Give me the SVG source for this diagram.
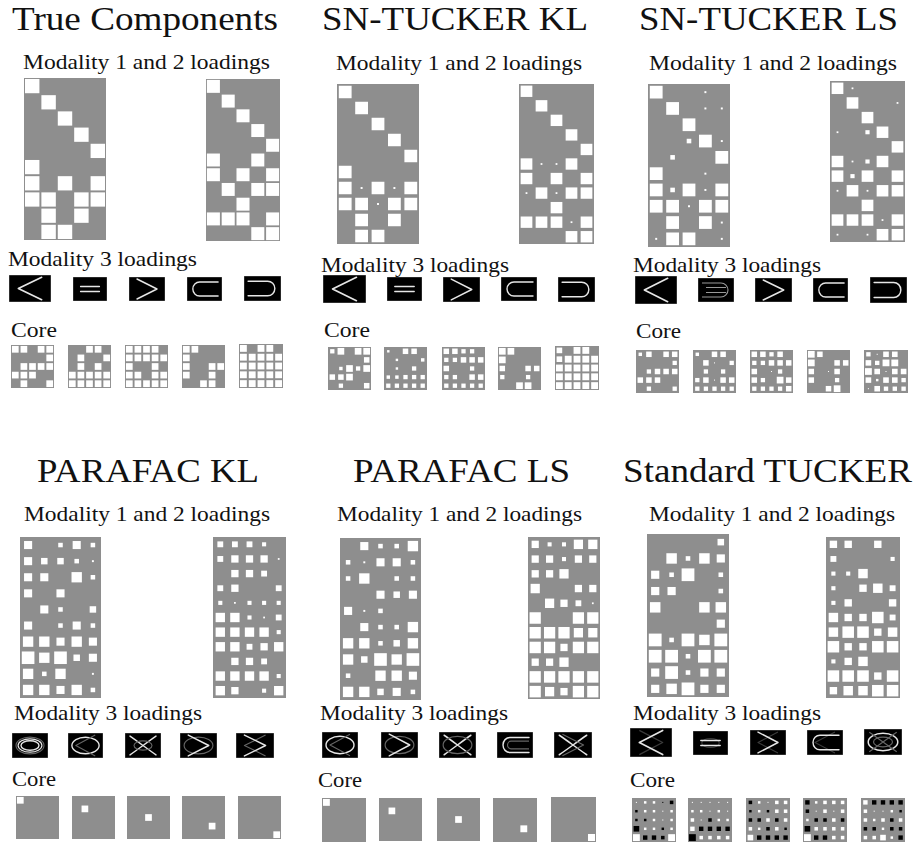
<svg xmlns="http://www.w3.org/2000/svg" xmlns:xlink="http://www.w3.org/1999/xlink" width="916" height="846" viewBox="0 0 916 846">
<style>
.bg{fill:#8e8e8e}
.bk{fill:#000;stroke:#888;stroke-width:.6}
.ln{fill:none;stroke:#e6e6e6;stroke-width:1.4;stroke-linejoin:round;stroke-linecap:round}
.fa{fill:none;stroke:#666;stroke-width:1.1;stroke-linejoin:round}
.k{fill:#000}
.ti{font-family:"Liberation Serif","Times New Roman",serif;font-size:33px;fill:#111}
.sb{font-family:"Liberation Serif","Times New Roman",serif;font-size:21px;fill:#111}
</style>
<defs>
<rect id="t" x=".06" y=".06" width=".88" height=".88"/>
<rect id="a" x=".11" y=".11" width=".78" height=".78"/>
<rect id="b" x=".18" y=".18" width=".64" height=".64"/>
<rect id="c" x=".25" y=".25" width=".5" height=".5"/>
<rect id="d" x=".3" y=".3" width=".4" height=".4"/>
<rect id="e" x=".36" y=".36" width=".28" height=".28"/>
<rect id="f" x=".44" y=".44" width=".12" height=".12"/>
<path id="lt" d="M28,2 L8,12 L28,22"/>
<path id="gt" d="M8,2 L28,12 L8,22"/>
<path id="eq" d="M8,9.5 H28 M8,14.5 H28"/>
<path id="sub" d="M32,5 H13 A7,7 0 0 0 13,19 H32"/>
<path id="sup" d="M4,5 H23 A7,7 0 0 1 23,19 H4"/>
<ellipse id="el" cx="18" cy="12" rx="14" ry="8"/>
<ellipse id="el2" cx="18" cy="12" rx="9" ry="4.5"/>
<path id="x" d="M5,3 C14,9 22,15 31,21 M5,21 C14,15 22,9 31,3"/>
</defs>

<g id="panel-true">
<text class="ti" x="12" y="30" textLength="266" lengthAdjust="spacingAndGlyphs">True Components</text>
<text class="sb" x="23" y="69" textLength="247" lengthAdjust="spacingAndGlyphs">Modality 1 and 2 loadings</text>
<svg id="true-m1" x="24" y="78" width="82" height="162" viewBox="0 0 5 10" preserveAspectRatio="none" fill="#fff"><rect class="bg" width="5" height="10"/>
<use href="#t"/><use href="#t" x="1" y="1"/><use href="#t" x="2" y="2"/><use href="#t" x="3" y="3"/><use href="#t" x="4" y="4"/><use href="#t" y="5"/>
<use href="#t" y="6"/><use href="#t" x="2" y="6"/><use href="#t" x="4" y="6"/>
<use href="#t" y="7"/><use href="#t" x="1" y="7"/><use href="#t" x="3" y="7"/><use href="#t" x="4" y="7"/>
<use href="#t" x="1" y="8"/><use href="#t" x="3" y="8"/><use href="#t" x="1" y="9"/><use href="#t" x="2" y="9"/></svg>
<svg id="true-m2" x="206" y="79" width="74" height="162" viewBox="0 0 5 11" preserveAspectRatio="none" fill="#fff"><rect class="bg" width="5" height="11"/>
<use href="#t"/><use href="#t" x="1" y="1"/><use href="#t" x="2" y="2"/><use href="#t" x="3" y="3"/><use href="#t" x="4" y="4"/>
<use href="#t" y="5"/><use href="#t" x="3" y="5"/><use href="#t" y="6"/><use href="#t" x="2" y="6"/><use href="#t" x="4" y="6"/>
<use href="#t" x="1" y="7"/><use href="#t" x="3" y="7"/><use href="#t" x="4" y="7"/><use href="#t" x="2" y="8"/>
<use href="#t" y="9"/><use href="#t" x="1" y="9"/><use href="#t" x="2" y="9"/><use href="#t" x="4" y="9"/><use href="#t" x="3" y="10"/><use href="#t" x="4" y="10"/></svg>
<text class="sb" x="8" y="266" textLength="189" lengthAdjust="spacingAndGlyphs">Modality 3 loadings</text>
<svg x="9" y="275" width="42" height="27" viewBox="0 0 36 24" preserveAspectRatio="none"><rect class="bk" width="36" height="24"/><use href="#lt" class="ln"/></svg>
<svg x="73" y="277" width="34" height="24" viewBox="0 0 36 24" preserveAspectRatio="none"><rect class="bk" width="36" height="24"/><use href="#eq" class="ln"/></svg>
<svg x="129" y="277" width="36" height="24" viewBox="0 0 36 24" preserveAspectRatio="none"><rect class="bk" width="36" height="24"/><use href="#gt" class="ln"/></svg>
<svg x="187" y="277" width="35" height="24" viewBox="0 0 36 24" preserveAspectRatio="none"><rect class="bk" width="36" height="24"/><use href="#sub" class="ln"/></svg>
<svg x="244" y="276" width="37" height="25" viewBox="0 0 36 24" preserveAspectRatio="none"><rect class="bk" width="36" height="24"/><use href="#sup" class="ln"/></svg>
<text class="sb" x="11" y="337" textLength="46" lengthAdjust="spacingAndGlyphs">Core</text>
<svg x="11" y="345" width="43" height="43" viewBox="0 0 5 5" fill="#fff"><rect class="bg" width="5" height="5"/>
<use href="#a"/><use href="#a" x="1"/><use href="#a" x="3"/><use href="#a" x="4"/><use href="#a" x="4" y="1"/>
<use href="#a" x="1" y="2"/><use href="#a" x="2" y="2"/><use href="#a" x="3" y="2"/><use href="#a" x="4" y="2"/>
<use href="#a" y="3"/><use href="#a" x="1" y="3"/><use href="#a" x="2" y="3"/><use href="#a" x="1" y="4"/><use href="#a" x="4" y="4"/></svg>
<svg x="68" y="345" width="43" height="43" viewBox="0 0 5 5" fill="#fff"><rect class="bg" width="5" height="5"/>
<use href="#a" x="2"/><use href="#a" x="3"/><use href="#a" x="1" y="1"/><use href="#a" x="4" y="1"/><use href="#a" x="1" y="2"/><use href="#a" x="3" y="2"/>
<use href="#a" y="3"/><use href="#a" x="1" y="3"/><use href="#a" x="2" y="3"/><use href="#a" x="3" y="3"/><use href="#a" x="4" y="3"/>
<use href="#a" y="4"/><use href="#a" x="1" y="4"/><use href="#a" x="2" y="4"/><use href="#a" x="3" y="4"/><use href="#a" x="4" y="4"/></svg>
<svg x="125" y="345" width="43" height="43" viewBox="0 0 5 5" fill="#fff"><rect class="bg" width="5" height="5"/>
<use href="#a"/><use href="#a" x="1"/><use href="#a" x="2"/><use href="#a" x="3"/>
<use href="#a" y="1"/><use href="#a" x="1" y="1"/><use href="#a" x="2" y="1"/><use href="#a" x="3" y="1"/><use href="#a" x="4" y="1"/>
<use href="#a" y="2"/><use href="#a" x="3" y="2"/><use href="#a" y="3"/><use href="#a" x="1" y="3"/><use href="#a" x="3" y="3"/><use href="#a" x="4" y="3"/>
<use href="#a" y="4"/><use href="#a" x="1" y="4"/><use href="#a" x="2" y="4"/><use href="#a" x="3" y="4"/><use href="#a" x="4" y="4"/></svg>
<svg x="182" y="345" width="43" height="43" viewBox="0 0 5 5" fill="#fff"><rect class="bg" width="5" height="5"/>
<use href="#a"/><use href="#a" x="1"/><use href="#a" y="1"/><use href="#a" y="2"/><use href="#a" x="3" y="2"/><use href="#a" x="4" y="2"/>
<use href="#a" y="3"/><use href="#a" x="3" y="3"/><use href="#a" x="2" y="4"/><use href="#a" x="3" y="4"/></svg>
<svg x="239" y="344" width="44" height="44" viewBox="0 0 5 5" fill="#fff"><rect class="bg" width="5" height="5"/>
<use href="#a"/><use href="#a" x="2"/><use href="#a" x="3"/>
<use href="#a" y="1"/><use href="#a" x="1" y="1"/><use href="#a" x="2" y="1"/><use href="#a" x="3" y="1"/><use href="#a" x="4" y="1"/>
<use href="#a" y="2"/><use href="#a" x="1" y="2"/><use href="#a" x="2" y="2"/><use href="#a" x="3" y="2"/><use href="#a" x="4" y="2"/>
<use href="#a" y="3"/><use href="#a" x="1" y="3"/><use href="#a" x="2" y="3"/><use href="#a" x="3" y="3"/><use href="#a" x="4" y="3"/>
<use href="#a" y="4"/><use href="#a" x="1" y="4"/><use href="#a" x="2" y="4"/><use href="#a" x="3" y="4"/><use href="#a" x="4" y="4"/></svg>
</g>

<g id="panel-sn-tucker-kl">
<text class="ti" x="322" y="30" textLength="266" lengthAdjust="spacingAndGlyphs">SN-TUCKER KL</text>
<text class="sb" x="336" y="70" textLength="246" lengthAdjust="spacingAndGlyphs">Modality 1 and 2 loadings</text>
<svg x="337" y="84" width="82" height="160" viewBox="0 0 5 10" preserveAspectRatio="none" fill="#fff"><rect class="bg" width="5" height="10"/>
<use href="#a"/><use href="#a" x="1" y="1"/><use href="#a" x="2" y="2"/><use href="#a" x="3" y="3"/><use href="#a" x="4" y="4"/><use href="#a" y="5"/>
<use href="#a" y="6"/><use href="#f" x="1" y="6"/><use href="#a" x="2" y="6"/><use href="#f" x="3" y="6"/><use href="#a" x="4" y="6"/>
<use href="#a" y="7"/><use href="#a" x="1" y="7"/><use href="#f" x="2" y="7"/><use href="#a" x="3" y="7"/><use href="#a" x="4" y="7"/>
<use href="#a" x="1" y="8"/><use href="#a" x="3" y="8"/><use href="#a" x="1" y="9"/><use href="#a" x="2" y="9"/></svg>
<svg x="519" y="84" width="75" height="160" viewBox="0 0 5 11" preserveAspectRatio="none" fill="#fff"><rect class="bg" width="5" height="11"/>
<use href="#a"/><use href="#a" x="1" y="1"/><use href="#a" x="2" y="2"/><use href="#a" x="3" y="3"/><use href="#a" x="4" y="4"/>
<use href="#a" y="5"/><use href="#f" x="1" y="5"/><use href="#f" x="2" y="5"/><use href="#a" x="3" y="5"/>
<use href="#a" y="6"/><use href="#a" x="2" y="6"/><use href="#a" x="4" y="6"/>
<use href="#f" y="7"/><use href="#a" x="1" y="7"/><use href="#f" x="2" y="7"/><use href="#a" x="3" y="7"/><use href="#a" x="4" y="7"/><use href="#a" x="2" y="8"/>
<use href="#a" y="9"/><use href="#a" x="1" y="9"/><use href="#a" x="2" y="9"/><use href="#f" x="3" y="9"/><use href="#a" x="4" y="9"/><use href="#a" x="3" y="10"/><use href="#a" x="4" y="10"/></svg>
<text class="sb" x="321" y="272" textLength="188" lengthAdjust="spacingAndGlyphs">Modality 3 loadings</text>
<svg x="323" y="275" width="43" height="28" viewBox="0 0 36 24" preserveAspectRatio="none"><rect class="bk" width="36" height="24"/><use href="#lt" class="ln"/></svg>
<svg x="387" y="277" width="35" height="24" viewBox="0 0 36 24" preserveAspectRatio="none"><rect class="bk" width="36" height="24"/><use href="#eq" class="ln"/></svg>
<svg x="443" y="277" width="37" height="25" viewBox="0 0 36 24" preserveAspectRatio="none"><rect class="bk" width="36" height="24"/><use href="#gt" class="ln"/></svg>
<svg x="501" y="277" width="36" height="24" viewBox="0 0 36 24" preserveAspectRatio="none"><rect class="bk" width="36" height="24"/><use href="#sub" class="ln"/></svg>
<svg x="558" y="277" width="37" height="25" viewBox="0 0 36 24" preserveAspectRatio="none"><rect class="bk" width="36" height="24"/><use href="#sup" class="ln"/></svg>
<text class="sb" x="324" y="337" textLength="46" lengthAdjust="spacingAndGlyphs">Core</text>
<svg x="328" y="347" width="43" height="43" viewBox="0 0 5 5" fill="#fff"><rect class="bg" width="5" height="5"/>
<use href="#c"/><use href="#a" x="1"/><use href="#a" x="3"/><use href="#a" x="4"/><use href="#b" x="4" y="1"/>
<use href="#d" x="1" y="2"/><use href="#a" x="2" y="2"/><use href="#c" x="3" y="2"/><use href="#a" x="4" y="2"/>
<use href="#b" y="3"/><use href="#b" x="1" y="3"/><use href="#a" x="2" y="3"/><use href="#c" x="1" y="4"/><use href="#b" x="4" y="4"/></svg>
<svg x="384" y="347" width="43" height="43" viewBox="0 0 5 5" fill="#fff"><rect class="bg" width="5" height="5"/>
<use href="#e"/><use href="#b" x="2"/><use href="#b" x="3"/><use href="#e" x="1" y="1"/><use href="#d" x="4" y="1"/><use href="#e" x="1" y="2"/><use href="#c" x="3" y="2"/>
<use href="#d" y="3"/><use href="#d" x="1" y="3"/><use href="#c" x="2" y="3"/><use href="#c" x="3" y="3"/><use href="#c" x="4" y="3"/>
<use href="#c" y="4"/><use href="#c" x="1" y="4"/><use href="#c" x="2" y="4"/><use href="#c" x="3" y="4"/><use href="#c" x="4" y="4"/></svg>
<svg x="442" y="347" width="43" height="43" viewBox="0 0 5 5" fill="#fff"><rect class="bg" width="5" height="5"/>
<use href="#b"/><use href="#b" x="1"/><use href="#c" x="2"/><use href="#c" x="3"/>
<use href="#c" y="1"/><use href="#c" x="1" y="1"/><use href="#b" x="2" y="1"/><use href="#b" x="3" y="1"/><use href="#b" x="4" y="1"/>
<use href="#b" y="2"/><use href="#c" x="3" y="2"/><use href="#c" y="3"/><use href="#c" x="1" y="3"/><use href="#b" x="3" y="3"/><use href="#b" x="4" y="3"/>
<use href="#c" y="4"/><use href="#c" x="1" y="4"/><use href="#c" x="2" y="4"/><use href="#c" x="3" y="4"/><use href="#c" x="4" y="4"/></svg>
<svg x="498" y="347" width="43" height="43" viewBox="0 0 5 5" fill="#fff"><rect class="bg" width="5" height="5"/>
<use href="#a"/><use href="#a" x="1"/><use href="#a" y="1"/><use href="#b" y="2"/><use href="#b" x="3" y="2"/><use href="#b" x="4" y="2"/>
<use href="#c" y="3"/><use href="#c" x="3" y="3"/><use href="#a" x="2" y="4"/><use href="#a" x="3" y="4"/></svg>
<svg x="555" y="346" width="44" height="44" viewBox="0 0 5 5" fill="#fff"><rect class="bg" width="5" height="5"/>
<use href="#b"/><use href="#a" x="2"/><use href="#a" x="3"/>
<use href="#b" y="1"/><use href="#a" x="1" y="1"/><use href="#a" x="2" y="1"/><use href="#a" x="3" y="1"/><use href="#a" x="4" y="1"/>
<use href="#a" y="2"/><use href="#a" x="1" y="2"/><use href="#a" x="2" y="2"/><use href="#a" x="3" y="2"/><use href="#a" x="4" y="2"/>
<use href="#a" y="3"/><use href="#a" x="1" y="3"/><use href="#a" x="2" y="3"/><use href="#a" x="3" y="3"/><use href="#a" x="4" y="3"/>
<use href="#a" y="4"/><use href="#a" x="1" y="4"/><use href="#a" x="2" y="4"/><use href="#a" x="3" y="4"/><use href="#a" x="4" y="4"/></svg>
</g>

<g id="panel-sn-tucker-ls">
<text class="ti" x="639" y="30" textLength="259" lengthAdjust="spacingAndGlyphs">SN-TUCKER LS</text>
<text class="sb" x="649" y="70" textLength="248" lengthAdjust="spacingAndGlyphs">Modality 1 and 2 loadings</text>
<svg x="648" y="84" width="82" height="163" viewBox="0 0 5 10" preserveAspectRatio="none" fill="#fff"><rect class="bg" width="5" height="10"/>
<use href="#a"/><use href="#f" x="3"/><use href="#a" x="1" y="1"/><use href="#f" x="3" y="1"/><use href="#f" x="4" y="1"/><use href="#a" x="2" y="2"/>
<use href="#e" x="2" y="3"/><use href="#a" x="3" y="3"/><use href="#f" x="4" y="3"/><use href="#e" x="1" y="4"/><use href="#a" x="4" y="4"/>
<use href="#a" y="5"/><use href="#f" x="3" y="5"/>
<use href="#a" y="6"/><use href="#e" x="1" y="6"/><use href="#a" x="2" y="6"/><use href="#f" x="3" y="6"/><use href="#a" x="4" y="6"/>
<use href="#a" y="7"/><use href="#a" x="1" y="7"/><use href="#f" x="2" y="7"/><use href="#a" x="3" y="7"/><use href="#a" x="4" y="7"/>
<use href="#a" x="1" y="8"/><use href="#a" x="3" y="8"/><use href="#f" x="4" y="8"/><use href="#f" y="9"/><use href="#a" x="1" y="9"/><use href="#a" x="2" y="9"/><use href="#f" x="4" y="9"/></svg>
<svg x="830" y="81" width="75" height="161" viewBox="0 0 5 11" preserveAspectRatio="none" fill="#fff"><rect class="bg" width="5" height="11"/>
<use href="#a"/><use href="#f" x="1"/><use href="#a" x="1" y="1"/><use href="#f" x="4" y="1"/><use href="#a" x="2" y="2"/>
<use href="#f" y="3"/><use href="#e" x="2" y="3"/><use href="#a" x="3" y="3"/><use href="#a" x="4" y="4"/>
<use href="#a" y="5"/><use href="#f" x="1" y="5"/><use href="#e" x="2" y="5"/><use href="#a" x="3" y="5"/>
<use href="#a" y="6"/><use href="#e" x="1" y="6"/><use href="#a" x="2" y="6"/><use href="#a" x="4" y="6"/>
<use href="#f" y="7"/><use href="#a" x="1" y="7"/><use href="#f" x="2" y="7"/><use href="#a" x="3" y="7"/><use href="#a" x="4" y="7"/><use href="#a" x="2" y="8"/>
<use href="#a" y="9"/><use href="#a" x="1" y="9"/><use href="#a" x="2" y="9"/><use href="#f" x="3" y="9"/><use href="#a" x="4" y="9"/>
<use href="#f" y="10"/><use href="#f" x="2" y="10"/><use href="#a" x="3" y="10"/><use href="#a" x="4" y="10"/></svg>
<text class="sb" x="633" y="272" textLength="188" lengthAdjust="spacingAndGlyphs">Modality 3 loadings</text>
<svg x="635" y="276" width="42" height="28" viewBox="0 0 36 24" preserveAspectRatio="none"><rect class="bk" width="36" height="24"/><use href="#lt" class="ln"/></svg>
<svg x="698" y="278" width="36" height="24" viewBox="0 0 36 24" preserveAspectRatio="none"><rect class="bk" width="36" height="24"/><use href="#sup" class="fa" style="stroke:#999"/><use href="#eq" class="fa" style="stroke:#999"/></svg>
<svg x="755" y="278" width="37" height="24" viewBox="0 0 36 24" preserveAspectRatio="none"><rect class="bk" width="36" height="24"/><use href="#gt" class="ln"/></svg>
<svg x="813" y="278" width="35" height="24" viewBox="0 0 36 24" preserveAspectRatio="none"><rect class="bk" width="36" height="24"/><use href="#sub" class="ln"/></svg>
<svg x="870" y="277" width="37" height="26" viewBox="0 0 36 24" preserveAspectRatio="none"><rect class="bk" width="36" height="24"/><use href="#sup" class="ln"/></svg>
<text class="sb" x="636" y="338" textLength="45" lengthAdjust="spacingAndGlyphs">Core</text>
<svg x="636" y="350" width="43" height="43" viewBox="0 0 5 5" fill="#fff"><rect class="bg" width="5" height="5"/>
<use href="#d"/><use href="#b" x="1"/><use href="#b" x="3"/><use href="#b" x="4"/><use href="#c" x="4" y="1"/>
<use href="#c" x="1" y="2"/><use href="#b" x="2" y="2"/><use href="#b" x="3" y="2"/><use href="#b" x="4" y="2"/>
<use href="#b" y="3"/><use href="#b" x="1" y="3"/><use href="#b" x="2" y="3"/><use href="#c" x="1" y="4"/><use href="#c" x="4" y="4"/></svg>
<svg x="693" y="350" width="43" height="43" viewBox="0 0 5 5" fill="#fff"><rect class="bg" width="5" height="5"/>
<use href="#d"/><use href="#b" x="2"/><use href="#b" x="3"/><use href="#b" x="1" y="1"/><use href="#f" x="2" y="1"/><use href="#c" x="4" y="1"/><use href="#c" x="1" y="2"/><use href="#c" x="3" y="2"/>
<use href="#c" y="3"/><use href="#b" x="1" y="3"/><use href="#f" x="2" y="3"/><use href="#b" x="3" y="3"/><use href="#b" x="4" y="3"/>
<use href="#c" y="4"/><use href="#c" x="1" y="4"/><use href="#c" x="2" y="4"/><use href="#c" x="3" y="4"/><use href="#c" x="4" y="4"/></svg>
<svg x="750" y="350" width="43" height="43" viewBox="0 0 5 5" fill="#fff"><rect class="bg" width="5" height="5"/>
<use href="#b"/><use href="#b" x="1"/><use href="#c" x="2"/><use href="#b" x="3"/>
<use href="#c" y="1"/><use href="#c" x="1" y="1"/><use href="#b" x="2" y="1"/><use href="#b" x="3" y="1"/><use href="#b" x="4" y="1"/>
<use href="#b" y="2"/><use href="#f" x="2" y="2"/><use href="#c" x="3" y="2"/><use href="#b" y="3"/><use href="#c" x="1" y="3"/><use href="#a" x="3" y="3"/><use href="#b" x="4" y="3"/>
<use href="#c" y="4"/><use href="#c" x="1" y="4"/><use href="#c" x="2" y="4"/><use href="#c" x="3" y="4"/><use href="#b" x="4" y="4"/></svg>
<svg x="807" y="350" width="43" height="43" viewBox="0 0 5 5" fill="#fff"><rect class="bg" width="5" height="5"/>
<use href="#a"/><use href="#b" x="1"/><use href="#a" y="1"/><use href="#b" x="3" y="1"/><use href="#b" x="4" y="1"/><use href="#b" y="2"/><use href="#f" x="2" y="2"/><use href="#b" x="3" y="2"/>
<use href="#b" y="3"/><use href="#c" x="3" y="3"/><use href="#b" x="2" y="4"/><use href="#a" x="3" y="4"/></svg>
<svg x="864" y="350" width="44" height="43" viewBox="0 0 5 5" preserveAspectRatio="none" fill="#fff"><rect class="bg" width="5" height="5"/>
<use href="#c"/><use href="#f" x="1"/><use href="#b" x="2"/><use href="#b" x="3"/>
<use href="#b" y="1"/><use href="#c" x="1" y="1"/><use href="#a" x="2" y="1"/><use href="#a" x="3" y="1"/>
<use href="#a" y="2"/><use href="#b" x="1" y="2"/><use href="#f" x="2" y="2"/><use href="#b" x="3" y="2"/><use href="#b" x="4" y="2"/>
<use href="#b" y="3"/><use href="#e" x="1" y="3"/><use href="#b" x="2" y="3"/><use href="#b" x="3" y="3"/><use href="#c" x="4" y="3"/>
<use href="#f" y="4"/><use href="#b" x="1" y="4"/><use href="#c" x="2" y="4"/><use href="#c" x="3" y="4"/><use href="#c" x="4" y="4"/></svg>
</g>

<g id="panel-parafac-kl">
<text class="ti" x="37" y="482" textLength="222" lengthAdjust="spacingAndGlyphs">PARAFAC KL</text>
<text class="sb" x="24" y="521" textLength="246" lengthAdjust="spacingAndGlyphs">Modality 1 and 2 loadings</text>
<svg x="20" y="537" width="81" height="161" viewBox="0 0 5 10" preserveAspectRatio="none" fill="#fff"><rect class="bg" width="5" height="10"/>
<use href="#c"/><use href="#e" x="2"/><use href="#c" x="3"/><use href="#e" x="4"/>
<use href="#c" y="1"/><use href="#d" x="1" y="1"/><use href="#d" x="2" y="1"/><use href="#e" x="3" y="1"/><use href="#f" x="4" y="1"/>
<use href="#c" y="2"/><use href="#c" x="1" y="2"/><use href="#b" x="3" y="2"/><use href="#e" x="4" y="2"/>
<use href="#c" y="3"/><use href="#c" x="2" y="3"/><use href="#c" x="1" y="4"/><use href="#e" x="2" y="4"/><use href="#d" x="4" y="4"/>
<use href="#c" y="5"/><use href="#e" x="2" y="5"/><use href="#c" x="3" y="5"/><use href="#e" x="4" y="5"/>
<use href="#b" y="6"/><use href="#b" x="1" y="6"/><use href="#c" x="2" y="6"/><use href="#b" x="3" y="6"/><use href="#c" x="4" y="6"/>
<use href="#a" y="7"/><use href="#b" x="1" y="7"/><use href="#a" x="2" y="7"/><use href="#d" x="3" y="7"/><use href="#c" x="4" y="7"/>
<use href="#b" y="8"/><use href="#e" x="1" y="8"/><use href="#b" x="2" y="8"/><use href="#f" x="4" y="8"/>
<use href="#b" y="9"/><use href="#b" x="1" y="9"/><use href="#c" x="2" y="9"/><use href="#b" x="3" y="9"/><use href="#e" x="4" y="9"/></svg>
<svg x="213" y="537" width="73" height="161" viewBox="0 0 5 11" preserveAspectRatio="none" fill="#fff"><rect class="bg" width="5" height="11"/>
<use href="#d"/><use href="#d" x="1"/><use href="#d" x="2"/><use href="#e" x="3"/>
<use href="#d" y="1"/><use href="#c" x="1" y="1"/><use href="#c" x="2" y="1"/><use href="#c" x="3" y="1"/><use href="#f" x="4" y="1"/>
<use href="#c" x="1" y="2"/><use href="#c" x="2" y="2"/><use href="#d" x="3" y="2"/><use href="#d" y="3"/><use href="#c" x="1" y="3"/><use href="#d" x="4" y="3"/>
<use href="#e" y="4"/><use href="#f" x="1" y="4"/><use href="#e" x="2" y="4"/><use href="#e" x="3" y="4"/><use href="#e" x="4" y="4"/>
<use href="#b" y="5"/><use href="#b" x="1" y="5"/><use href="#e" x="2" y="5"/><use href="#f" x="3" y="5"/><use href="#d" x="4" y="5"/>
<use href="#b" y="6"/><use href="#b" x="1" y="6"/><use href="#b" x="2" y="6"/><use href="#b" x="3" y="6"/><use href="#e" x="4" y="6"/>
<use href="#b" y="7"/><use href="#b" x="1" y="7"/><use href="#d" x="2" y="7"/><use href="#c" x="3" y="7"/><use href="#b" x="4" y="7"/>
<use href="#c" x="1" y="8"/><use href="#c" x="2" y="8"/><use href="#d" x="3" y="8"/>
<use href="#b" y="9"/><use href="#b" x="1" y="9"/><use href="#b" x="2" y="9"/><use href="#b" x="3" y="9"/><use href="#e" x="4" y="9"/>
<use href="#b" y="10"/><use href="#c" x="1" y="10"/><use href="#e" x="3" y="10"/><use href="#b" x="4" y="10"/></svg>
<text class="sb" x="14" y="720" textLength="188" lengthAdjust="spacingAndGlyphs">Modality 3 loadings</text>
<svg x="12" y="733" width="36" height="25" viewBox="0 0 36 24" preserveAspectRatio="none"><rect class="bk" width="36" height="24"/><use href="#el" class="fa"/><use href="#el2" class="ln"/><use href="#el" class="ln" transform="translate(18,12) scale(.85,.8) translate(-18,-12)"/></svg>
<svg x="68" y="733" width="35" height="25" viewBox="0 0 36 24" preserveAspectRatio="none"><rect class="bk" width="36" height="24"/><use href="#el" class="ln"/><use href="#lt" class="fa"/></svg>
<svg x="125" y="733" width="36" height="25" viewBox="0 0 36 24" preserveAspectRatio="none"><rect class="bk" width="36" height="24"/><use href="#x" class="ln"/><use href="#el2" class="fa"/></svg>
<svg x="180" y="733" width="37" height="25" viewBox="0 0 36 24" preserveAspectRatio="none"><rect class="bk" width="36" height="24"/><use href="#el" class="fa"/><use href="#gt" class="ln"/></svg>
<svg x="236" y="733" width="38" height="25" viewBox="0 0 36 24" preserveAspectRatio="none"><rect class="bk" width="36" height="24"/><use href="#lt" class="fa"/><use href="#gt" class="ln"/></svg>
<text class="sb" x="12" y="786" textLength="44" lengthAdjust="spacingAndGlyphs">Core</text>
<svg x="16" y="796" width="43" height="43" viewBox="0 0 5 5" fill="#fff"><rect class="bg" width="5" height="5"/><use href="#a"/></svg>
<svg x="72" y="796" width="43" height="43" viewBox="0 0 5 5" fill="#fff"><rect class="bg" width="5" height="5"/><use href="#a" x="1" y="1"/></svg>
<svg x="127" y="796" width="43" height="43" viewBox="0 0 5 5" fill="#fff"><rect class="bg" width="5" height="5"/><use href="#a" x="2" y="2"/></svg>
<svg x="182" y="796" width="43" height="43" viewBox="0 0 5 5" fill="#fff"><rect class="bg" width="5" height="5"/><use href="#a" x="3" y="3"/></svg>
<svg x="238" y="796" width="43" height="43" viewBox="0 0 5 5" fill="#fff"><rect class="bg" width="5" height="5"/><use href="#a" x="4" y="4"/></svg>
</g>

<g id="panel-parafac-ls">
<text class="ti" x="353" y="482" textLength="217" lengthAdjust="spacingAndGlyphs">PARAFAC LS</text>
<text class="sb" x="337" y="521" textLength="245" lengthAdjust="spacingAndGlyphs">Modality 1 and 2 loadings</text>
<svg x="340" y="538" width="81" height="162" viewBox="0 0 5 10" preserveAspectRatio="none" fill="#fff"><rect class="bg" width="5" height="10"/>
<use href="#c" x="1"/><use href="#e" x="2"/><use href="#e" x="3"/><use href="#b" x="4"/>
<use href="#e" y="1"/><use href="#f" x="1" y="1"/><use href="#c" x="2" y="1"/><use href="#c" x="3" y="1"/><use href="#e" x="4" y="1"/>
<use href="#e" y="2"/><use href="#b" x="1" y="2"/><use href="#e" x="3" y="2"/><use href="#e" x="4" y="2"/>
<use href="#c" x="2" y="3"/><use href="#d" x="3" y="3"/><use href="#c" x="4" y="3"/><use href="#c" y="4"/><use href="#f" x="1" y="4"/><use href="#e" x="2" y="4"/>
<use href="#c" x="1" y="5"/><use href="#e" x="2" y="5"/><use href="#e" x="3" y="5"/><use href="#b" x="4" y="5"/>
<use href="#b" y="6"/><use href="#b" x="1" y="6"/><use href="#e" x="2" y="6"/><use href="#d" x="3" y="6"/><use href="#b" x="4" y="6"/>
<use href="#b" y="7"/><use href="#d" x="1" y="7"/><use href="#a" x="2" y="7"/><use href="#b" x="3" y="7"/><use href="#a" x="4" y="7"/>
<use href="#e" y="8"/><use href="#b" x="2" y="8"/><use href="#b" x="3" y="8"/><use href="#c" x="4" y="8"/>
<use href="#b" y="9"/><use href="#b" x="1" y="9"/><use href="#d" x="2" y="9"/><use href="#c" x="3" y="9"/><use href="#e" x="4" y="9"/></svg>
<svg x="528" y="537" width="72" height="162" viewBox="0 0 5 11" preserveAspectRatio="none" fill="#fff"><rect class="bg" width="5" height="11"/>
<use href="#c"/><use href="#e" x="1"/><use href="#e" x="2"/><use href="#b" x="3"/><use href="#b" x="4"/>
<use href="#c" y="1"/><use href="#c" x="1" y="1"/><use href="#e" x="2" y="1"/><use href="#c" x="3" y="1"/><use href="#c" x="4" y="1"/>
<use href="#c" y="2"/><use href="#c" x="1" y="2"/><use href="#b" x="2" y="2"/><use href="#b" y="3"/><use href="#c" x="3" y="3"/><use href="#c" x="4" y="3"/>
<use href="#b" x="1" y="4"/><use href="#c" x="2" y="4"/><use href="#d" x="3" y="4"/><use href="#f" x="4" y="4"/>
<use href="#a" y="5"/><use href="#a" x="3" y="5"/><use href="#a" x="4" y="5"/>
<use href="#a" y="6"/><use href="#a" x="1" y="6"/><use href="#a" x="2" y="6"/><use href="#b" x="3" y="6"/><use href="#b" x="4" y="6"/>
<use href="#a" y="7"/><use href="#a" x="1" y="7"/><use href="#c" x="2" y="7"/><use href="#a" x="3" y="7"/><use href="#a" x="4" y="7"/>
<use href="#c" y="8"/><use href="#c" x="1" y="8"/><use href="#b" x="2" y="8"/>
<use href="#a" y="9"/><use href="#a" x="1" y="9"/><use href="#a" x="2" y="9"/><use href="#a" x="3" y="9"/><use href="#a" x="4" y="9"/>
<use href="#a" y="10"/><use href="#b" x="1" y="10"/><use href="#c" x="2" y="10"/><use href="#a" x="3" y="10"/><use href="#a" x="4" y="10"/></svg>
<text class="sb" x="320" y="720" textLength="188" lengthAdjust="spacingAndGlyphs">Modality 3 loadings</text>
<svg x="322" y="732" width="36" height="26" viewBox="0 0 36 24" preserveAspectRatio="none"><rect class="bk" width="36" height="24"/><use href="#el" class="ln"/><use href="#lt" class="fa"/></svg>
<svg x="381" y="732" width="37" height="26" viewBox="0 0 36 24" preserveAspectRatio="none"><rect class="bk" width="36" height="24"/><use href="#el" class="fa"/><use href="#gt" class="ln"/></svg>
<svg x="439" y="732" width="37" height="26" viewBox="0 0 36 24" preserveAspectRatio="none"><rect class="bk" width="36" height="24"/><use href="#x" class="ln"/><use href="#el" class="fa"/></svg>
<svg x="497" y="732" width="36" height="26" viewBox="0 0 36 24" preserveAspectRatio="none"><rect class="bk" width="36" height="24"/><use href="#sub" class="ln"/><path class="fa" d="M32,8.5 H14 A3.5,3.5 0 0 0 14,15.5 H32"/></svg>
<svg x="554" y="732" width="38" height="26" viewBox="0 0 36 24" preserveAspectRatio="none"><rect class="bk" width="36" height="24"/><use href="#x" class="ln"/><use href="#gt" class="fa"/></svg>
<text class="sb" x="318" y="787" textLength="44" lengthAdjust="spacingAndGlyphs">Core</text>
<svg x="322" y="798" width="44" height="44" viewBox="0 0 5 5" fill="#fff"><rect class="bg" width="5" height="5"/><use href="#a"/></svg>
<svg x="379" y="798" width="43" height="43" viewBox="0 0 5 5" fill="#fff"><rect class="bg" width="5" height="5"/><use href="#a" x="1" y="1"/></svg>
<svg x="437" y="798" width="43" height="43" viewBox="0 0 5 5" fill="#fff"><rect class="bg" width="5" height="5"/><use href="#a" x="2" y="2"/></svg>
<svg x="493" y="798" width="44" height="44" viewBox="0 0 5 5" fill="#fff"><rect class="bg" width="5" height="5"/><use href="#a" x="3" y="3"/></svg>
<svg x="551" y="797" width="45" height="45" viewBox="0 0 5 5" fill="#fff"><rect class="bg" width="5" height="5"/><use href="#a" x="4" y="4"/></svg>
</g>

<g id="panel-standard-tucker">
<text class="ti" x="623" y="482" textLength="289" lengthAdjust="spacingAndGlyphs">Standard TUCKER</text>
<text class="sb" x="649" y="521" textLength="246" lengthAdjust="spacingAndGlyphs">Modality 1 and 2 loadings</text>
<svg x="647" y="534" width="82" height="163" viewBox="0 0 5 10" preserveAspectRatio="none" fill="#fff"><rect class="bg" width="5" height="10"/>
<use href="#d" x="4"/><use href="#b" x="1" y="1"/><use href="#e" x="2" y="1"/><use href="#b" x="3" y="1"/><use href="#c" x="4" y="1"/>
<use href="#c" y="2"/><use href="#e" x="1" y="2"/><use href="#a" x="2" y="2"/><use href="#e" x="4" y="2"/>
<use href="#c" y="3"/><use href="#c" x="1" y="3"/><use href="#e" x="4" y="3"/><use href="#b" y="4"/><use href="#b" x="3" y="4"/><use href="#b" x="4" y="4"/><use href="#c" x="4" y="5"/>
<use href="#a" y="6"/><use href="#e" x="1" y="6"/><use href="#a" x="2" y="6"/><use href="#b" x="3" y="6"/><use href="#a" x="4" y="6"/>
<use href="#a" y="7"/><use href="#a" x="1" y="7"/><use href="#e" x="2" y="7"/><use href="#a" x="3" y="7"/><use href="#a" x="4" y="7"/>
<use href="#c" y="8"/><use href="#a" x="1" y="8"/><use href="#e" x="2" y="8"/><use href="#c" x="3" y="8"/><use href="#c" x="4" y="8"/>
<use href="#c" y="9"/><use href="#b" x="1" y="9"/><use href="#a" x="2" y="9"/><use href="#c" x="3" y="9"/><use href="#c" x="4" y="9"/></svg>
<svg x="826" y="537" width="74" height="161" viewBox="0 0 5 11" preserveAspectRatio="none" fill="#fff"><rect class="bg" width="5" height="11"/>
<use href="#c"/><use href="#c" x="1"/><use href="#c" x="3"/><use href="#d" y="1"/><use href="#e" x="4" y="1"/>
<use href="#e" y="2"/><use href="#e" x="1" y="2"/><use href="#b" x="2" y="2"/><use href="#e" y="3"/><use href="#c" x="2" y="3"/><use href="#b" x="3" y="3"/><use href="#d" x="4" y="3"/>
<use href="#e" y="4"/><use href="#c" x="1" y="4"/><use href="#c" x="4" y="4"/>
<use href="#b" y="5"/><use href="#c" x="1" y="5"/><use href="#c" x="2" y="5"/><use href="#a" x="3" y="5"/><use href="#d" x="4" y="5"/>
<use href="#b" y="6"/><use href="#a" x="1" y="6"/><use href="#a" x="2" y="6"/><use href="#c" x="3" y="6"/><use href="#b" x="4" y="6"/>
<use href="#a" y="7"/><use href="#c" x="1" y="7"/><use href="#c" x="2" y="7"/><use href="#a" x="3" y="7"/><use href="#a" x="4" y="7"/>
<use href="#e" y="8"/><use href="#c" x="1" y="8"/><use href="#b" x="2" y="8"/>
<use href="#a" y="9"/><use href="#a" x="1" y="9"/><use href="#a" x="2" y="9"/><use href="#c" x="3" y="9"/><use href="#a" x="4" y="9"/>
<use href="#c" y="10"/><use href="#b" x="1" y="10"/><use href="#b" x="2" y="10"/><use href="#a" x="3" y="10"/><use href="#a" x="4" y="10"/></svg>
<text class="sb" x="633" y="720" textLength="188" lengthAdjust="spacingAndGlyphs">Modality 3 loadings</text>
<svg x="630" y="728" width="42" height="29" viewBox="0 0 36 24" preserveAspectRatio="none"><rect class="bk" width="36" height="24"/><use href="#gt" class="fa" style="stroke:#3c3c3c"/><use href="#lt" class="ln"/></svg>
<svg x="693" y="731" width="35" height="24" viewBox="0 0 36 24" preserveAspectRatio="none"><rect class="bk" width="36" height="24"/><use href="#el2" class="fa" style="stroke:#3c3c3c"/><use href="#eq" class="ln"/></svg>
<svg x="750" y="730" width="36" height="25" viewBox="0 0 36 24" preserveAspectRatio="none"><rect class="bk" width="36" height="24"/><use href="#lt" class="fa" style="stroke:#3c3c3c"/><use href="#gt" class="ln"/></svg>
<svg x="807" y="730" width="36" height="25" viewBox="0 0 36 24" preserveAspectRatio="none"><rect class="bk" width="36" height="24"/><use href="#lt" class="fa" style="stroke:#3c3c3c"/><use href="#sub" class="ln"/></svg>
<svg x="864" y="729" width="38" height="26" viewBox="0 0 36 24" preserveAspectRatio="none"><rect class="bk" width="36" height="24"/><use href="#el" class="ln"/><use href="#x" class="fa"/><use href="#el2" class="fa"/></svg>
<text class="sb" x="630" y="787" textLength="45" lengthAdjust="spacingAndGlyphs">Core</text>
<svg x="632" y="798" width="44" height="44" viewBox="0 0 5 5" fill="#fff"><rect class="bg" width="5" height="5"/>
<use href="#f"/><use href="#e" x="1"/><use href="#e" x="2"/><use href="#f" x="3" class="k"/><use href="#d" x="4" class="k"/>
<use href="#e" y="1" class="k"/><use href="#e" x="1" y="1"/><use href="#e" x="2" y="1"/><use href="#f" x="3" y="1"/><use href="#e" x="4" y="1"/>
<use href="#e" y="2" class="k"/><use href="#e" x="1" y="2" class="k"/><use href="#e" x="2" y="2"/><use href="#f" x="3" y="2"/><use href="#e" x="4" y="2"/>
<use href="#b" y="3" class="k"/><use href="#e" x="1" y="3"/><use href="#e" x="2" y="3"/><use href="#e" x="3" y="3" class="k"/><use href="#e" x="4" y="3"/>
<use href="#a" y="4"/><use href="#c" x="1" y="4" class="k"/><use href="#c" x="2" y="4" class="k"/><use href="#d" x="3" y="4" class="k"/><use href="#a" x="4" y="4"/></svg>
<svg x="688" y="798" width="44" height="44" viewBox="0 0 5 5" fill="#fff"><rect class="bg" width="5" height="5"/>
<use href="#f"/><use href="#f" x="1"/><use href="#f" x="2"/><use href="#f" x="3"/><use href="#f" x="4"/>
<use href="#e" y="1"/><use href="#e" x="1" y="1"/><use href="#f" x="2" y="1"/><use href="#e" x="3" y="1"/><use href="#f" x="4" y="1"/>
<use href="#d" y="2"/><use href="#f" x="1" y="2"/><use href="#d" x="2" y="2" class="k"/><use href="#e" x="3" y="2"/><use href="#e" x="4" y="2"/>
<use href="#c" y="3"/><use href="#c" x="1" y="3" class="k"/><use href="#c" x="2" y="3" class="k"/><use href="#c" x="3" y="3" class="k"/><use href="#c" x="4" y="3" class="k"/>
<use href="#a" y="4" class="k"/><use href="#d" x="1" y="4"/><use href="#d" x="2" y="4"/><use href="#d" x="3" y="4"/><use href="#d" x="4" y="4"/></svg>
<svg x="746" y="798" width="44" height="44" viewBox="0 0 5 5" fill="#fff"><rect class="bg" width="5" height="5"/>
<use href="#d" class="k"/><use href="#e" x="1"/><use href="#f" x="2"/><use href="#d" x="3"/><use href="#d" x="4"/>
<use href="#e" y="1" class="k"/><use href="#e" x="1" y="1"/><use href="#e" x="2" y="1" class="k"/><use href="#d" x="3" y="1"/><use href="#d" x="4" y="1"/>
<use href="#d" y="2" class="k"/><use href="#d" x="1" y="2" class="k"/><use href="#d" x="2" y="2"/><use href="#d" x="3" y="2" class="k"/><use href="#d" x="4" y="2"/>
<use href="#d" y="3"/><use href="#e" x="1" y="3"/><use href="#d" x="2" y="3" class="k"/><use href="#d" x="3" y="3"/><use href="#e" x="4" y="3" class="k"/>
<use href="#b" y="4"/><use href="#c" x="1" y="4" class="k"/><use href="#c" x="2" y="4" class="k"/><use href="#c" x="3" y="4" class="k"/><use href="#c" x="4" y="4" class="k"/></svg>
<svg x="803" y="798" width="44" height="44" viewBox="0 0 5 5" fill="#fff"><rect class="bg" width="5" height="5"/>
<use href="#c" class="k"/><use href="#e" x="1"/><use href="#d" x="2"/><use href="#d" x="3"/><use href="#d" x="4"/>
<use href="#d" y="1" class="k"/><use href="#f" x="1" y="1"/><use href="#d" x="2" y="1"/><use href="#f" x="3" y="1"/><use href="#d" x="4" y="1"/>
<use href="#e" y="2"/><use href="#d" x="1" y="2" class="k"/><use href="#d" x="2" y="2" class="k"/><use href="#d" x="3" y="2"/><use href="#d" x="4" y="2" class="k"/>
<use href="#b" y="3" class="k"/><use href="#d" x="1" y="3"/><use href="#d" x="2" y="3"/><use href="#d" x="3" y="3"/><use href="#d" x="4" y="3"/>
<use href="#a" y="4"/><use href="#c" x="1" y="4" class="k"/><use href="#c" x="2" y="4" class="k"/><use href="#d" x="3" y="4"/><use href="#d" x="4" y="4"/></svg>
<svg x="861" y="798" width="44" height="44" viewBox="0 0 5 5" fill="#fff"><rect class="bg" width="5" height="5"/>
<use href="#c"/><use href="#c" x="1" class="k"/><use href="#c" x="2" class="k"/><use href="#c" x="3" class="k"/><use href="#c" x="4" class="k"/>
<use href="#d" y="1"/><use href="#f" x="1" y="1"/><use href="#f" x="2" y="1"/><use href="#e" x="3" y="1"/><use href="#e" x="4" y="1" class="k"/>
<use href="#d" y="2"/><use href="#e" x="1" y="2"/><use href="#d" x="2" y="2"/><use href="#d" x="3" y="2" class="k"/><use href="#d" x="4" y="2"/>
<use href="#d" y="3" class="k"/><use href="#d" x="1" y="3" class="k"/><use href="#e" x="2" y="3"/><use href="#d" x="3" y="3" class="k"/><use href="#d" x="4" y="3" class="k"/>
<use href="#d" y="4"/><use href="#d" x="1" y="4"/><use href="#b" x="2" y="4"/><use href="#e" x="3" y="4"/><use href="#c" x="4" y="4" class="k"/></svg>
</g>
</svg>
